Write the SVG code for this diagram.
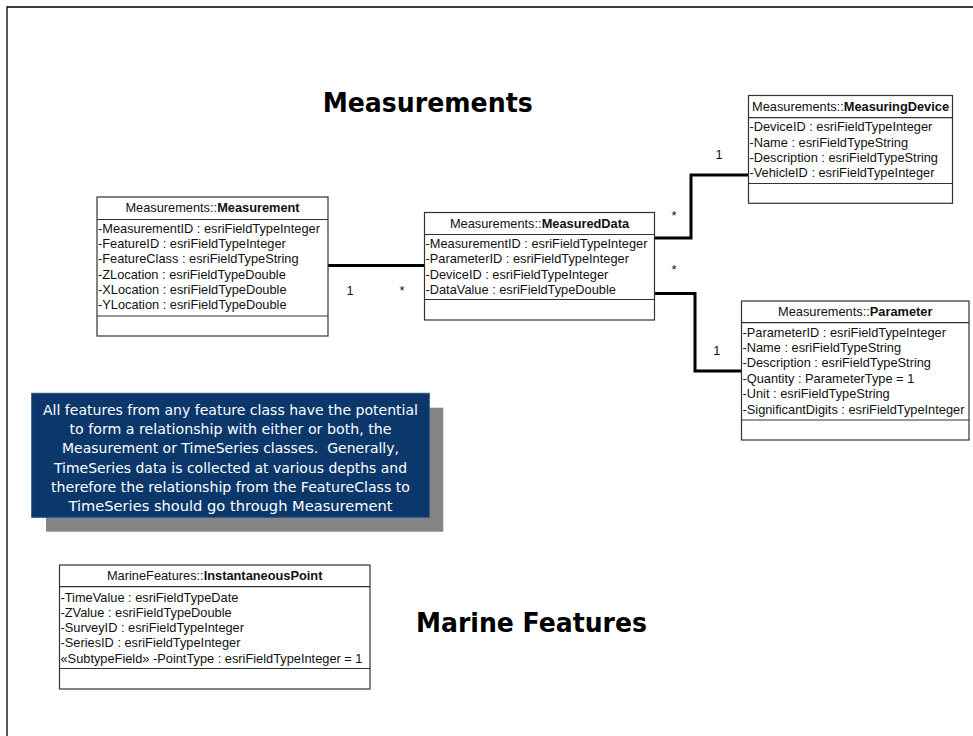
<svg xmlns="http://www.w3.org/2000/svg" width="973" height="736" viewBox="0 0 973 736">
<style>
.box{fill:#fff;stroke:#333;stroke-width:1.2}
.sep{stroke:#333;stroke-width:1.2}
.t{font-family:"Liberation Sans",Arial,sans-serif;font-size:12.8px;fill:#111}
.h{font-family:"Liberation Sans",Arial,sans-serif;font-size:12.8px;fill:#111;text-anchor:middle}
.b{font-weight:bold}
.conn{fill:none;stroke:#000;stroke-width:3}
.lbl{font-family:"Liberation Sans",Arial,sans-serif;font-size:12.8px;fill:#111;text-anchor:middle}
.title{font-family:"DejaVu Sans",Verdana,sans-serif;font-weight:bold;font-size:26px;fill:#000}
.note{font-family:"DejaVu Sans",Verdana,sans-serif;font-size:14px;fill:#fff;text-anchor:middle}
</style>
<rect width="973" height="736" fill="#fff"/>
<path d="M7,736 V7 H973" fill="none" stroke="#000" stroke-width="1.3"/>

<text class="title" x="322.7" y="112" textLength="210" lengthAdjust="spacingAndGlyphs">Measurements</text>
<text class="title" x="416" y="632.3" textLength="231" lengthAdjust="spacingAndGlyphs">Marine Features</text>

<g id="connectors">
<path class="conn" d="M328,265.5 H424.5"/>
<path class="conn" d="M654.5,238 H691 V175 H748.5"/>
<path class="conn" d="M654.5,293.5 H695 V371 H741.5"/>
<text class="lbl" x="350" y="294.5">1</text>
<text class="lbl" x="402" y="294.5">*</text>
<text class="lbl" x="719" y="158.5">1</text>
<text class="lbl" x="674" y="220">*</text>
<text class="lbl" x="674" y="274">*</text>
<text class="lbl" x="716.7" y="354.5">1</text>
</g>

<g id="Measurement">
<rect class="box" x="97" y="197" width="231" height="139"/>
<line class="sep" x1="97" y1="219.5" x2="328" y2="219.5"/>
<line class="sep" x1="97" y1="316" x2="328" y2="316"/>
<text class="h" x="212.5" y="212">Measurements::<tspan class="b">Measurement</tspan></text>
<text class="t" x="98" y="232.7">-MeasurementID : esriFieldTypeInteger</text>
<text class="t" x="98" y="248">-FeatureID : esriFieldTypeInteger</text>
<text class="t" x="98" y="263.3">-FeatureClass : esriFieldTypeString</text>
<text class="t" x="98" y="278.7">-ZLocation : esriFieldTypeDouble</text>
<text class="t" x="98" y="294">-XLocation : esriFieldTypeDouble</text>
<text class="t" x="98" y="309.3">-YLocation : esriFieldTypeDouble</text>
</g>

<g id="MeasuredData">
<rect class="box" x="424.5" y="212.5" width="230" height="107.5"/>
<line class="sep" x1="424.5" y1="234.5" x2="654.5" y2="234.5"/>
<line class="sep" x1="424.5" y1="299.5" x2="654.5" y2="299.5"/>
<text class="h" x="539.5" y="227.8">Measurements::<tspan class="b">MeasuredData</tspan></text>
<text class="t" x="425.5" y="248">-MeasurementID : esriFieldTypeInteger</text>
<text class="t" x="425.5" y="263.3">-ParameterID : esriFieldTypeInteger</text>
<text class="t" x="425.5" y="278.6">-DeviceID : esriFieldTypeInteger</text>
<text class="t" x="425.5" y="293.9">-DataValue : esriFieldTypeDouble</text>
</g>

<g id="MeasuringDevice">
<rect class="box" x="748.5" y="95.5" width="204" height="107.8"/>
<line class="sep" x1="748.5" y1="117.7" x2="952.5" y2="117.7"/>
<line class="sep" x1="748.5" y1="183.5" x2="952.5" y2="183.5"/>
<text class="h" x="850.5" y="110.8">Measurements::<tspan class="b">MeasuringDevice</tspan></text>
<text class="t" x="749.5" y="131.3">-DeviceID : esriFieldTypeInteger</text>
<text class="t" x="749.5" y="146.6">-Name : esriFieldTypeString</text>
<text class="t" x="749.5" y="161.9">-Description : esriFieldTypeString</text>
<text class="t" x="749.5" y="177.2">-VehicleID : esriFieldTypeInteger</text>
</g>

<g id="Parameter">
<rect class="box" x="741.5" y="301" width="227.5" height="139"/>
<line class="sep" x1="741.5" y1="322.7" x2="969" y2="322.7"/>
<line class="sep" x1="741.5" y1="420" x2="969" y2="420"/>
<text class="h" x="855.2" y="316.3">Measurements::<tspan class="b">Parameter</tspan></text>
<text class="t" x="742.5" y="336.5">-ParameterID : esriFieldTypeInteger</text>
<text class="t" x="742.5" y="351.9">-Name : esriFieldTypeString</text>
<text class="t" x="742.5" y="367.3">-Description : esriFieldTypeString</text>
<text class="t" x="742.5" y="382.7">-Quantity : ParameterType = 1</text>
<text class="t" x="742.5" y="398.1">-Unit : esriFieldTypeString</text>
<text class="t" x="742.5" y="413.5">-SignificantDigits : esriFieldTypeInteger</text>
</g>

<g id="Note">
<rect x="46" y="407.7" width="397.3" height="124" fill="#858585"/>
<rect x="31.7" y="393.3" width="397.6" height="124" fill="#0b376b" stroke="#2a5486" stroke-width="1"/>
<text class="note" x="230.5" y="415" textLength="375" lengthAdjust="spacingAndGlyphs">All features from any feature class have the potential</text>
<text class="note" x="230.5" y="434.2" textLength="322" lengthAdjust="spacingAndGlyphs">to form a relationship with either or both, the</text>
<text class="note" x="230.5" y="453.4" textLength="337" lengthAdjust="spacingAndGlyphs" xml:space="preserve">Measurement or TimeSeries classes.  Generally,</text>
<text class="note" x="230.5" y="472.6" textLength="353" lengthAdjust="spacingAndGlyphs">TimeSeries data is collected at various depths and</text>
<text class="note" x="230.5" y="491.8" textLength="359" lengthAdjust="spacingAndGlyphs">therefore the relationship from the FeatureClass to</text>
<text class="note" x="230.5" y="511" textLength="324" lengthAdjust="spacingAndGlyphs">TimeSeries should go through Measurement</text>
</g>

<g id="InstantaneousPoint">
<rect class="box" x="59.5" y="565" width="310.5" height="124"/>
<line class="sep" x1="59.5" y1="586.7" x2="370" y2="586.7"/>
<line class="sep" x1="59.5" y1="668.5" x2="370" y2="668.5"/>
<text class="h" x="214.7" y="580.3">MarineFeatures::<tspan class="b">InstantaneousPoint</tspan></text>
<text class="t" x="60.5" y="601.5">-TimeValue : esriFieldTypeDate</text>
<text class="t" x="60.5" y="616.8">-ZValue : esriFieldTypeDouble</text>
<text class="t" x="60.5" y="632.1">-SurveyID : esriFieldTypeInteger</text>
<text class="t" x="60.5" y="647.4">-SeriesID : esriFieldTypeInteger</text>
<text class="t" x="60.5" y="662.7">«SubtypeField» -PointType : esriFieldTypeInteger = 1</text>
</g>
</svg>
